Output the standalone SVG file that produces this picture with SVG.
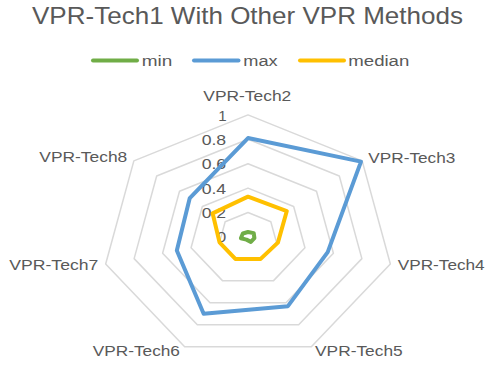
<svg xmlns="http://www.w3.org/2000/svg" width="486" height="367" viewBox="0 0 486 367">
<style>
.bg{fill:#ffffff}
.ring{fill:none;stroke:#d9d9d9;stroke-width:1.5;stroke-linejoin:round}
.series{fill:none;stroke-width:4;stroke-linejoin:round;stroke-linecap:round}
.min{stroke:#70ad47}
.max{stroke:#5b9bd5}
.median{stroke:#ffc000}
.txt{font-family:"Liberation Sans",Arial,sans-serif;fill:#595959}
.title{font-size:24px}
.cat{font-size:15.5px}
.tick{font-size:14.5px}
.leg{font-size:15.5px}
</style>
<rect class="bg" x="0" y="0" width="486" height="367"/>
<text class="txt title" x="32" y="24" textLength="431" lengthAdjust="spacingAndGlyphs">VPR-Tech1 With Other VPR Methods</text>
<g id="legend">
  <line class="series min" x1="93" y1="60.5" x2="137" y2="60.5"/>
  <text class="txt leg" x="141.7" y="65.5" textLength="30.6" lengthAdjust="spacingAndGlyphs">min</text>
  <line class="series max" x1="194" y1="60.5" x2="238.5" y2="60.5"/>
  <text class="txt leg" x="243.3" y="65.5" textLength="34.4" lengthAdjust="spacingAndGlyphs">max</text>
  <line class="series median" x1="300" y1="60.5" x2="344" y2="60.5"/>
  <text class="txt leg" x="348.3" y="65.5" textLength="61" lengthAdjust="spacingAndGlyphs">median</text>
</g>
<g id="grid">
  <polygon class="ring" points="248,114.9 362.15,160.83 390.34,264.05 311.35,346.82 184.65,346.82 105.66,264.05 133.85,160.83"/>
  <polygon class="ring" points="248,139.3 339.32,176.04 361.87,258.62 298.68,324.84 197.32,324.84 134.13,258.62 156.68,176.04"/>
  <polygon class="ring" points="248,163.7 316.49,191.26 333.4,253.19 286.01,302.85 209.99,302.85 162.6,253.19 179.51,191.26"/>
  <polygon class="ring" points="248,188.1 293.66,206.47 304.94,247.76 273.34,280.87 222.66,280.87 191.06,247.76 202.34,206.47"/>
  <polygon class="ring" points="248,212.5 270.83,221.69 276.47,242.33 260.67,258.88 235.33,258.88 219.53,242.33 225.17,221.69"/>
</g>
<g id="ticks">
  <text class="txt tick" x="218.3" y="120.5" textLength="8.4" lengthAdjust="spacingAndGlyphs">1</text>
  <text class="txt tick" x="201.7" y="145" textLength="24.5" lengthAdjust="spacingAndGlyphs">0.8</text>
  <text class="txt tick" x="201.7" y="169.3" textLength="24.5" lengthAdjust="spacingAndGlyphs">0.6</text>
  <text class="txt tick" x="201.7" y="193.6" textLength="24.5" lengthAdjust="spacingAndGlyphs">0.4</text>
  <text class="txt tick" x="201.7" y="218" textLength="24.5" lengthAdjust="spacingAndGlyphs">0.2</text>
  <text class="txt tick" x="216.8" y="242.3" textLength="9.5" lengthAdjust="spacingAndGlyphs">0</text>
</g>
<g id="axis-labels">
  <g id="tech2"><text class="txt cat" x="203.3" y="101" textLength="88" lengthAdjust="spacingAndGlyphs">VPR-Tech2</text></g>
  <g id="tech3"><text class="txt cat" x="368.3" y="162.5" textLength="87" lengthAdjust="spacingAndGlyphs">VPR-Tech3</text></g>
  <g id="tech4"><text class="txt cat" x="397.7" y="269.5" textLength="87" lengthAdjust="spacingAndGlyphs">VPR-Tech4</text></g>
  <g id="tech5"><text class="txt cat" x="315" y="356" textLength="87.7" lengthAdjust="spacingAndGlyphs">VPR-Tech5</text></g>
  <g id="tech6"><text class="txt cat" x="92.7" y="356" textLength="87.3" lengthAdjust="spacingAndGlyphs">VPR-Tech6</text></g>
  <g id="tech7"><text class="txt cat" x="9.3" y="269.5" textLength="89" lengthAdjust="spacingAndGlyphs">VPR-Tech7</text></g>
  <g id="tech8"><text class="txt cat" x="39.3" y="162" textLength="88" lengthAdjust="spacingAndGlyphs">VPR-Tech8</text></g>
</g>
<g id="series">
  <polygon id="series-max" class="series max" points="248,138.08 361.01,161.59 327.71,252.1 287.91,306.15 203.65,313.84 176.83,250.48 189.78,198.1"/>
  <polygon id="series-median" class="series median" points="248,196.64 286.81,211.04 277.89,242.6 260.67,258.88 235.33,258.88 219.53,242.33 212.61,213.32"/>
  <polygon id="series-min" class="series min" points="248,232.02 253.71,233.1 254.41,238.12 250.85,241.85 246.42,239.65 240.88,238.26 242.86,233.48"/>
</g>
</svg>
